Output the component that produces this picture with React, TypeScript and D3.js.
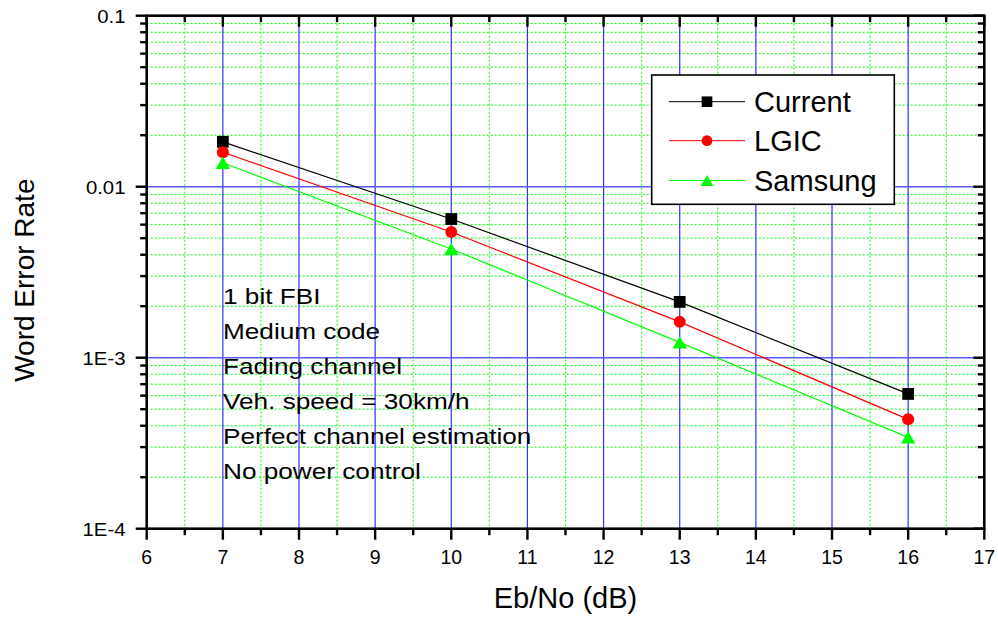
import React from "react";
import * as d3 from "d3";

const ebno = [7, 10, 13, 16];
const current = [0.0183, 0.00647, 0.00212, 0.000614];
const lgic = [0.0159, 0.00543, 0.00162, 0.000436];
const samsung = [0.0138, 0.00432, 0.00123, 0.000342];

const xTicks = [6, 7, 8, 9, 10, 11, 12, 13, 14, 15, 16, 17];
const yTicks = [0.1, 0.01, 0.001, 0.0001];
const yTickLabels = ["0.1", "0.01", "1E-3", "1E-4"];

const seriesNames = ["Current", "LGIC", "Samsung"];
const notes = [
  "1 bit FBI",
  "Medium code",
  "Fading channel",
  "Veh. speed = 30km/h",
  "Perfect channel estimation",
  "No power control",
];

const W = 998;
const H = 619;
const L = 146.7;
const R = 984.3;
const T = 15.7;
const B = 528.7;
const FONT = "'Liberation Sans', Arial, Helvetica, sans-serif";

function Marker({ kind, x, y, color, s = 1 }: { kind: string; x: number; y: number; color: string; s?: number }) {
  if (kind === "square") {
    const h = 5.9 * s;
    return <rect x={x - h} y={y - h} width={2 * h} height={2 * h} fill={color} />;
  }
  if (kind === "circle") {
    return <circle cx={x} cy={y} r={6 * s} fill={color} />;
  }
  const hw = 7.2 * s;
  const hh = 6.2 * s;
  return <path d={`M${x},${y - hh}L${x + hw},${y + hh}L${x - hw},${y + hh}Z`} fill={color} />;
}

export default function App() {
  const x = d3.scaleLinear().domain([6, 17]).range([L, R]);
  const y = d3.scaleLog().domain([1e-4, 0.1]).range([B, T]);

  const series = [
    { name: seriesNames[0], values: current, color: "#000000", kind: "square" },
    { name: seriesNames[1], values: lgic, color: "#ff0000", kind: "circle" },
    { name: seriesNames[2], values: samsung, color: "#00ff00", kind: "triangle" },
  ];

  const xMinor = d3.range(6.5, 17, 1);
  const xMajorGrid = d3.range(7, 17, 1);
  const yMinor: number[] = [];
  [1e-4, 1e-3, 1e-2].forEach((d) => {
    for (let k = 2; k <= 9; k++) yMinor.push(d * k);
  });
  const yMajorGrid = [0.01, 0.001];

  const line = d3
    .line<number>()
    .x((_, i) => x(ebno[i]))
    .y((d) => y(d));

  const legendRows = [101.7, 140.7, 180.5];

  return (
    <svg
      width={W}
      height={H}
      style={{ position: "absolute", left: 0, top: 0, background: "#fff" }}
      fontFamily={FONT}
    >
      <rect x={0} y={0} width={W} height={H} fill="#fff" />
      {/* minor grid */}
      {xMinor.map((v) => (
        <line key={"xm" + v} x1={x(v)} x2={x(v)} y1={T} y2={B} stroke="#00ff00" strokeWidth={1} strokeDasharray="2,2" />
      ))}
      {yMinor.map((v) => (
        <line key={"ym" + v} x1={L} x2={R} y1={y(v)} y2={y(v)} stroke="#00ff00" strokeWidth={1} strokeDasharray="2,2" />
      ))}
      {/* major grid */}
      {xMajorGrid.map((v) => (
        <line key={"xg" + v} x1={x(v)} x2={x(v)} y1={T} y2={B} stroke="#3030ff" strokeWidth={1.2} />
      ))}
      {yMajorGrid.map((v) => (
        <line key={"yg" + v} x1={L} x2={R} y1={y(v)} y2={y(v)} stroke="#5a5aff" strokeWidth={1.6} />
      ))}

      {/* series lines */}
      {series.map((s) => (
        <path key={"l" + s.name} d={line(s.values) || ""} fill="none" stroke={s.color} strokeWidth={1.2} />
      ))}
      {series.map((s) =>
        s.values.map((v, i) => (
          <Marker key={s.name + i} kind={s.kind} x={x(ebno[i])} y={y(v)} color={s.color} />
        ))
      )}

      {/* frame */}
      <rect x={L} y={T} width={R - L} height={B - T} fill="none" stroke="#000" strokeWidth={2.6} />

      {/* bottom ticks (outward) and top ticks (inward) */}
      {xTicks.map((v) => (
        <g key={"xt" + v}>
          <line x1={x(v)} x2={x(v)} y1={B} y2={B + 11} stroke="#000" strokeWidth={2.4} />
          <line x1={x(v)} x2={x(v)} y1={T} y2={T + 11} stroke="#000" strokeWidth={2.4} />
          <text x={x(v)} y={564} textAnchor="middle" fontSize={19.5} fill="#000">
            {v}
          </text>
        </g>
      ))}
      {xMinor.map((v) => (
        <g key={"xmt" + v}>
          <line x1={x(v)} x2={x(v)} y1={B} y2={B + 6.5} stroke="#000" strokeWidth={2.4} />
          <line x1={x(v)} x2={x(v)} y1={T} y2={T + 6.5} stroke="#000" strokeWidth={2.4} />
        </g>
      ))}

      {/* left ticks (outward), right ticks (inward) */}
      {yTicks.map((v, i) => (
        <g key={"yt" + v}>
          <line x1={L - 11} x2={L} y1={y(v)} y2={y(v)} stroke="#000" strokeWidth={2.4} />
          <line x1={R - 11} x2={R} y1={y(v)} y2={y(v)} stroke="#000" strokeWidth={2.4} />
          <text
            transform={`translate(125.5,${y(v) + 6.8}) scale(1.1,1)`}
            textAnchor="end"
            fontSize={18.5}
            fill="#000"
          >
            {yTickLabels[i]}
          </text>
        </g>
      ))}
      {yMinor.map((v) => (
        <g key={"ymt" + v}>
          <line x1={L - 6.5} x2={L} y1={y(v)} y2={y(v)} stroke="#000" strokeWidth={2.4} />
          <line x1={R - 6.5} x2={R} y1={y(v)} y2={y(v)} stroke="#000" strokeWidth={2.4} />
        </g>
      ))}

      {/* axis titles */}
      <text x={(L + R) / 2} y={608} textAnchor="middle" fontSize={29} fill="#000">
        Eb/No (dB)
      </text>
      <text transform={`translate(33.5,${(T + B) / 2 + 8}) rotate(-90)`} textAnchor="middle" fontSize={28} fill="#000">
        Word Error Rate
      </text>

      {/* notes */}
      {notes.map((n, i) => (
        <text
          key={n}
          transform={`translate(223,${304 + i * 35}) scale(1.19,1)`}
          fontSize={22}
          fill="#000"
        >
          {n}
        </text>
      ))}

      {/* legend */}
      <rect x={651.7} y={75} width={242.6} height={129.3} fill="#fff" stroke="#000" strokeWidth={1.6} />
      {series.map((s, i) => (
        <g key={"lg" + s.name}>
          <line x1={669} x2={745} y1={legendRows[i]} y2={legendRows[i]} stroke={s.color} strokeWidth={1} />
          <Marker kind={s.kind} x={707} y={legendRows[i]} color={s.color} s={0.9} />
          <text x={754} y={legendRows[i] + 10.3} fontSize={29} fill="#000">
            {s.name}
          </text>
        </g>
      ))}
    </svg>
  );
}
